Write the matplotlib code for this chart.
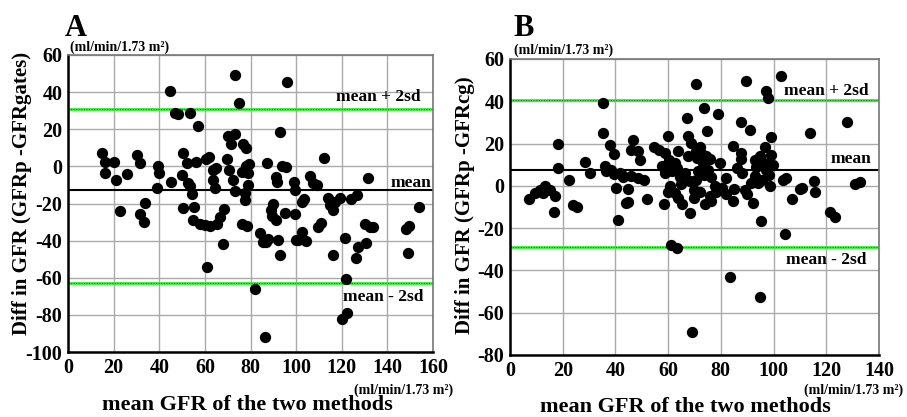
import numpy as np
import matplotlib
matplotlib.use("Agg")
from matplotlib import pyplot as plt

plt.rcParams['font.family'] = ['Liberation Serif', 'DejaVu Serif']
plt.rcParams['font.weight'] = 'bold'
plt.rcParams['axes.unicode_minus'] = False

# panel A : mean GFR vs (GFRp - GFRgates)
a_x = [15.0, 16.3, 16.0, 20.2, 21.1, 25.8, 30.2, 31.4, 39.6, 40.1, 38.9, 44.8, 47.0, 48.0,
       53.5, 56.8, 50.6, 52.1, 56.3, 60.6, 62.0, 49.8, 45.3, 52.5, 53.5, 54.5, 63.6, 64.9,
       63.4, 64.3, 69.5, 70.7, 72.3, 73.2, 73.3, 74.8, 70.0, 73.0, 71.5, 76.7, 78.2, 78.0,
       79.5, 76.1, 78.8, 79.0, 77.8, 87.4, 96.2, 93.1, 93.6, 95.5, 91.3, 91.8, 99.2, 99.3,
       103.4, 105.9, 107.3, 109.2, 112.3, 131.6, 114.0, 117.0, 119.2, 124.2, 126.7, 153.9,
       22.9, 31.4, 33.4, 33.8, 50.3, 55.3, 55.0, 57.9, 60.1, 62.3, 65.2, 66.7, 68.4, 67.8,
       61.1, 76.1, 78.3, 77.6, 82.0, 84.2, 86.8, 86.3, 88.8, 90.0, 91.2, 92.2, 92.9, 95.1,
       99.5, 99.9, 102.4, 104.3, 102.4, 109.7, 111.1, 116.2, 116.2, 121.4, 121.8, 119.9,
       122.1, 126.2, 127.2, 130.5, 130.1, 132.3, 133.5, 148.0, 149.5, 149.1, 89.5, 115.0,
       85.5, 87.6, 100.8]
a_y = [7.0, 2.5, -3.8, 2.6, -7.4, -4.2, 6.1, 1.6, 0.0, -3.7, -11.4, 40.8, 28.5, 28.0,
       28.9, 21.8, 7.2, 2.0, 2.5, 4.2, 5.0, -4.7, -8.2, -9.0, -10.8, -14.8, -2.0, -1.0,
       -7.2, -11.8, 4.0, -2.0, -7.5, -13.5, 49.3, 34.0, 16.5, 17.5, 12.0, 11.8, 10.0, 0.0,
       1.5, -2.9, -3.8, -10.1, -14.6, 1.8, 45.7, 18.7, 0.3, -0.5, -5.5, -8.5, -8.3, -12.8,
       -17.5, -5.2, -9.0, -10.0, 4.3, -6.3, -17.2, -19.0, -17.3, -17.6, -15.5, -22.0,
       -24.0, -25.4, -29.9, -19.9, -22.2, -21.8, -29.0, -30.8, -31.7, -32.2, -31.2, -27.2,
       -23.2, -41.6, -54.1, -31.2, -32.2, -18.2, -66.1, -35.8, -40.6, -91.9, -23.6, -20.3,
       -29.0, -39.4, -47.9, -25.0, -25.7, -39.6, -35.3, -40.1, -19.1, -32.5, -30.3, -47.9,
       -23.6, -38.5, -60.9, -82.1, -79.2, -49.6, -43.3, -41.2, -31.2, -32.5, -32.9, -33.9,
       -32.2, -46.6, -27.0, -21.0, -40.7, -38.9, -39.8]
a_mean, a_hi, a_lo = -12.7, 31.1, -63.0

# panel B : mean GFR vs (GFRp - GFRcg)
b_x = [7.2, 9.5, 11.4, 13.3, 12.6, 15.2, 17.1, 16.8, 18.1, 18.3, 22.4, 24.0, 25.3, 28.4,
       30.3, 35.1, 35.1, 37.9, 39.6, 36.0, 38.5, 40.1, 41.7, 43.0, 44.9, 44.9, 46.8, 45.9,
       48.6, 49.3, 48.4, 50.9, 51.8, 54.7, 56.5, 58.8, 57.5, 60.0, 58.8, 60.7, 60.0, 63.6,
       62.5, 63.2, 62.5, 63.8, 58.5, 67.3, 67.6, 68.6, 67.6, 66.3, 68.2, 69.9, 69.9, 70.4,
       72.0, 72.6, 73.3, 73.7, 74.9, 75.2, 76.4, 79.0, 79.6, 77.7, 78.3, 82.1, 84.7, 87.6,
       87.8, 87.6, 90.9, 89.5, 88.1, 89.0, 91.4, 92.9, 94.1, 96.7, 97.3, 97.9, 98.9, 97.7,
       99.2, 99.8, 98.6, 97.3, 98.2, 103.0, 103.6, 107.0, 110.6, 113.7, 115.4, 115.9,
       121.3, 123.2, 128.0, 130.8, 132.7, 41.1, 44.2, 61.0, 63.2, 65.1, 68.2, 68.9, 73.9,
       76.4, 84.7, 83.4, 92.2, 95.1, 94.8, 104.5, 36.5, 39.5, 42.5, 46.0, 59.5, 61.5, 60.5,
       65.0, 64.5, 70.5, 71.0, 74.5, 76.0, 71.5, 73.5, 70.5, 86.0, 93.5, 95.0, 96.0, 93.0,
       95.5, 104.9, 109.9, 80.5, 85.0, 82.0, 76.0, 72.0, 90.0]
b_y = [-6.3, -3.4, -1.9, 0.0, -3.4, -1.9, -5.0, -12.6, 20.0, 8.4, 2.9, -9.0, -9.8, 11.5,
       6.0, 39.2, 25.0, 19.1, 15.2, 9.2, 7.6, -1.1, 6.3, 4.4, -1.6, -7.4, 21.8, 17.1,
       16.3, 12.3, 3.7, 2.9, -6.3, 18.6, 17.1, 15.5, 9.2, 23.4, 6.0, -0.3, -2.7, 16.3,
       10.8, 8.4, -3.4, -5.8, -8.5, 32.1, 23.7, 20.2, 14.2, 6.0, 2.1, -1.9, -5.8, 48.3,
       18.6, 15.5, 10.8, 36.8, 25.8, 7.6, 4.4, 34.1, 10.8, -0.3, -2.7, 3.7, 19.0, 15.5,
       12.6, 30.0, 26.5, 49.4, 6.3, -1.9, 1.3, 12.3, 1.3, 18.6, 44.7, 41.5, 23.1, 10.8,
       14.7, 10.0, -0.3, 7.6, 5.2, 51.8, 2.9, -6.3, -1.1, 25.0, 2.1, -2.7,
       -12.4, -14.8, 30.0, 1.0, 1.6, -16.1, -8.2, -27.9, -29.5, -8.7, -12.7, -69.0, -8.7,
       -7.1, -7.1, -43.2, -7.9, -16.6, -52.4, -22.7, 7.0, 5.5, 5.0, 4.5, 9.5, 7.0, 12.0,
       1.0, 4.0, 16.5, 13.0, 14.0, 12.5, 7.0, 5.0, 3.0, 8.5, 9.0, 14.0, 11.0, 4.5,
       3.0, 3.5, -1.3, -1.0, -1.5, -4.0, -5.0, -3.0, -4.0]
b_mean, b_hi, b_lo = 7.6, 40.4, -28.7

units = '(ml/min/1.73 m²)'
xlab = 'mean GFR of the two methods'

fig = plt.figure(figsize=(9.07, 4.17), dpi=100)


def panel(rect, x, y, xmax, ymin, mean, hi, lo, txt):
    ax = fig.add_axes(rect)
    ax.set_xlim(0, xmax)
    ax.set_ylim(ymin, 60)
    ax.set_xticks(np.arange(0, xmax + 1, 20))
    ax.set_yticks(np.arange(ymin, 61, 20))
    ax.grid(True, color='#aaaaaa', lw=1.0)
    ax.set_axisbelow(True)
    ax.tick_params(length=0, labelsize=14.5, pad=4)
    for lab in ax.get_xticklabels() + ax.get_yticklabels():
        lab.set_fontweight('bold')
    for s in ['left', 'bottom']:
        ax.spines[s].set_color('black')
        ax.spines[s].set_linewidth(1.8)
    for s in ['top', 'right']:
        ax.spines[s].set_color('#777777')
        ax.spines[s].set_linewidth(1.2)
    ax.axhline(mean, color='black', lw=1.5, zorder=2)
    for v in (hi, lo):
        ax.axhline(v, color='#33ee33', lw=2.0, zorder=2)
        ax.axhline(v, color='#117711', lw=0.7, ls=':', zorder=2)
    ax.scatter(x, y, s=66, color='black', zorder=3, linewidths=0)
    for (tx, ty, s) in txt:
        ax.text(tx, ty, s, ha='right', va='center', fontsize=12.5, fontweight='bold', zorder=4)
    return ax


panel([68 / 907, 65 / 417, 365 / 907, 297 / 417], a_x, a_y, 160, -100, a_mean, a_hi, a_lo,
      [(154.6, 37.3, 'mean + 2sd'), (159.4, -9.0, 'mean'), (155.9, -70.5, 'mean - 2sd')])
panel([510 / 907, 62 / 417, 369 / 907, 296 / 417], b_x, b_y, 140, -80, b_mean, b_hi, b_lo,
      [(136.1, 45.0, 'mean + 2sd'), (137.2, 12.8, 'mean'), (135.3, -35.0, 'mean - 2sd')])

fig.text(65 / 907, 1 - 36 / 417, 'A', fontsize=22, fontweight='bold', va='baseline')
fig.text(513 / 907, 1 - 36 / 417, 'B', fontsize=22, fontweight='bold', va='baseline')
fig.text(70 / 907, 1 - 47 / 417, units, fontsize=10, fontweight='bold', va='center')
fig.text(514 / 907, 1 - 50 / 417, units, fontsize=10, fontweight='bold', va='center')
fig.text(453 / 907, 1 - 390 / 417, units, fontsize=10, fontweight='bold', va='center', ha='right')
fig.text(903 / 907, 1 - 390 / 417, units, fontsize=10, fontweight='bold', va='center', ha='right')
fig.text(247 / 907, 1 - 405 / 417, xlab, fontsize=16, fontweight='bold', ha='center', va='center')
fig.text(685 / 907, 1 - 407 / 417, xlab, fontsize=16, fontweight='bold', ha='center', va='center')
fig.text(22 / 907, 1 - 193 / 417, 'Diff in GFR (GFRp -GFRgates)', fontsize=15, fontweight='bold',
         rotation=90, ha='center', va='center')
fig.text(465 / 907, 1 - 205 / 417, 'Diff in GFR (GFRp -GFRcg)', fontsize=15, fontweight='bold',
         rotation=90, ha='center', va='center')

fig.savefig('out.png', dpi=100)
